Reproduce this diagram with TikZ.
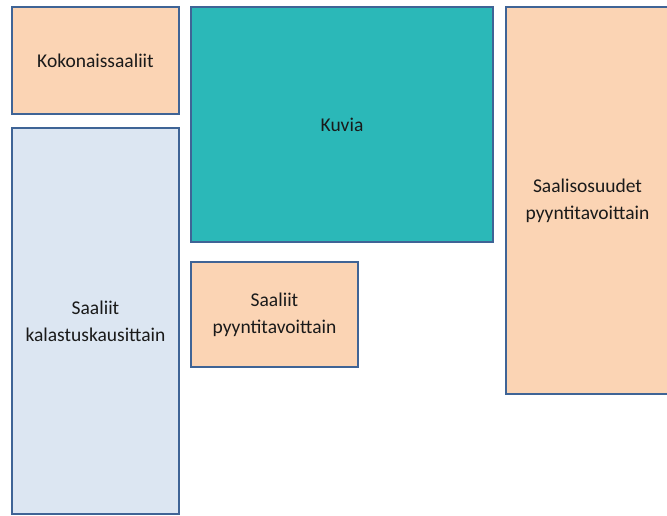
\documentclass[tikz,border=0pt]{standalone}
\usepackage{fontspec}
\setmainfont{Carlito}
\definecolor{peach}{HTML}{FBD4B4}
\definecolor{lblue}{HTML}{DCE6F2}
\definecolor{teal2}{HTML}{2BB8B8}
\definecolor{bord}{HTML}{3F6496}
\definecolor{txt}{HTML}{1A1A1A}
\begin{document}
\begin{tikzpicture}[x=1pt,y=-1pt,
  box/.style={draw=bord, line width=2pt, rectangle, anchor=north west, inner sep=0pt, outer sep=0pt,
    align=center, text=txt, font=\fontsize{19.5}{27}\selectfont},
  peachbox/.style={box, fill=peach},
  bluebox/.style={box, fill=lblue},
  tealbox/.style={box, fill=teal2}]
\useasboundingbox (0,0) rectangle (667,516);
\fill[white] (0,0) rectangle (667,516);
\node[peachbox, minimum width=167pt, minimum height=107pt] (koko) at (12,7) {Kokonaissaaliit};
\node[bluebox, minimum width=167pt, minimum height=386pt] (kausi) at (12,128) {Saaliit\\kalastuskausittain};
\node[tealbox, minimum width=302pt, minimum height=235pt] (kuvia) at (191,7) {Kuvia};
\node[peachbox, minimum width=167pt, minimum height=105pt] (pyynti) at (191,262) {Saaliit\\pyyntitavoittain};
\node[peachbox, minimum width=163pt, minimum height=387pt] (osuus) at (506,7) {Saalisosuudet\\pyyntitavoittain};
\end{tikzpicture}
\end{document}
